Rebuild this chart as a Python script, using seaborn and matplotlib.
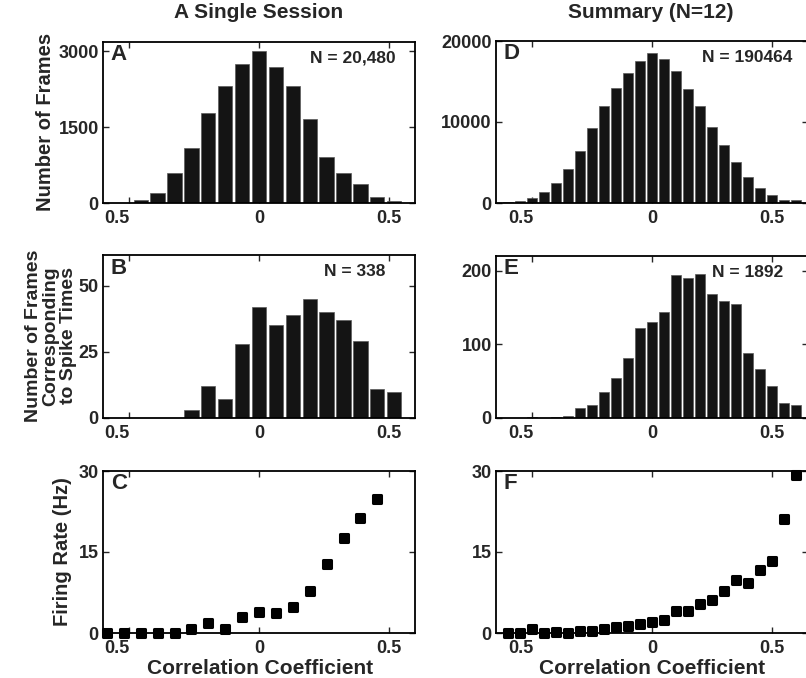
import pandas as pd
import seaborn as sns
import matplotlib.pyplot as plt
from matplotlib.transforms import ScaledTranslation

# A single session (panels A-C)
sess_bins = [-0.52, -0.455, -0.39, -0.325, -0.26, -0.195, -0.13, -0.065, 0.0,
             0.065, 0.13, 0.195, 0.26, 0.325, 0.39, 0.455, 0.52]
sess_frames = [5, 50, 204, 585, 1079, 1783, 2303, 2737, 3000, 2684, 2303, 1658,
               908, 599, 382, 125, 46]
sess_spike_frames = [0, 0, 0, 0, 3, 12, 7, 28, 42, 35, 39, 45, 40, 37, 29, 11, 10]
sess_rate_x = [-0.585, -0.52, -0.455, -0.39, -0.325, -0.26, -0.195, -0.13, -0.065,
               0.0, 0.065, 0.13, 0.195, 0.26, 0.325, 0.39, 0.455]
sess_rate = [0, 0, 0, 0, 0, 0.8, 1.9, 0.8, 3.0, 3.95, 3.7, 4.8, 7.7, 12.7, 17.6,
             21.3, 24.9]

# summary over 12 sessions (panels D-F)
summ_bins = [-0.6, -0.55, -0.5, -0.45, -0.4, -0.35, -0.3, -0.25, -0.2, -0.15, -0.1,
             -0.05, 0.0, 0.05, 0.1, 0.15, 0.2, 0.25, 0.3, 0.35, 0.4, 0.45, 0.5, 0.55, 0.6]
summ_frames = [120, 290, 620, 1325, 2480, 4220, 6380, 9280, 11930, 14240, 16110,
               17470, 18550, 17720, 16270, 14040, 11970, 9440, 7120, 5050, 3230,
               1820, 1035, 414, 414]
summ_spike_frames = [0, 0, 1, 0, 2, 3, 13, 18, 35, 55, 82, 122, 130, 144, 194, 190,
                     195, 168, 159, 155, 88, 67, 43, 21, 18]
summ_rate = [0, 0, 0.7, 0, 0.2, 0.05, 0.4, 0.4, 0.7, 1.1, 1.3, 1.7, 2.0, 2.4, 4.0,
             4.0, 5.3, 6.1, 7.8, 9.75, 9.25, 11.7, 13.3, 21.2, 29.3]

sns.set_style('ticks')
plt.rcParams['font.family'] = ['Liberation Sans', 'DejaVu Sans']
plt.rcParams['font.weight'] = 'bold'

W, H = 806, 678
fig = plt.figure(figsize=(W / 100, H / 100), dpi=100)


def px_axes(left, top, right, bottom):
    return fig.add_axes([left / W, 1 - bottom / H, (right - left) / W, (bottom - top) / H])


def hist_panel(ax, centers, counts, width):
    df = pd.DataFrame({'r': centers, 'n': counts})
    sns.barplot(data=df, x='r', y='n', native_scale=True, width=width, ax=ax,
                color='#141414', edgecolor='#5a5a5a', linewidth=0.5, saturation=1,
                errorbar=None)


def rate_panel(ax, xs, ys):
    df = pd.DataFrame({'r': xs, 'hz': ys})
    sns.scatterplot(data=df, x='r', y='hz', marker='s', s=30, color='black',
                    edgecolor='black', linewidth=2.2, clip_on=False, zorder=5, ax=ax)
    for coll in ax.collections:
        coll.set_joinstyle('round')


def style(ax, xlim, ylim, yticks, letter, shift):
    ax.set_xlim(xlim)
    ax.set_ylim(ylim)
    ax.set_xticks([-0.5, 0, 0.5])
    ax.set_xticklabels(['0.5', '0', '0.5'])
    ax.set_yticks(yticks)
    ax.set_yticklabels([str(t) for t in yticks])
    ax.tick_params(direction='in', top=True, right=True, length=4, width=1,
                   labelsize=13, pad=5)
    ax.tick_params(axis='y', pad=3)
    for s in ax.spines.values():
        s.set_visible(True)
        s.set_linewidth(1.3)
        s.set_color('black')
    ax.set_xlabel('')
    ax.set_ylabel('')
    # the minus sign of the left label is missing in the original
    lab = ax.get_xticklabels()[0]
    lab.set_transform(lab.get_transform() + ScaledTranslation(shift, 0, fig.dpi_scale_trans))
    ax.text(0.025, 0.92, letter, transform=ax.transAxes, fontsize=16,
            fontweight='bold', ha='left', va='center')


axA = px_axes(103, 42, 415, 203)
axB = px_axes(103, 255, 415, 418)
axC = px_axes(103, 471, 415, 633)
axD = px_axes(496, 41, 808, 203)
axE = px_axes(496, 256, 808, 418)
axF = px_axes(496, 471, 808, 633)

hist_panel(axA, sess_bins, sess_frames, 0.85)
hist_panel(axB, sess_bins, sess_spike_frames, 0.85)
rate_panel(axC, sess_rate_x, sess_rate)
hist_panel(axD, summ_bins, summ_frames, 0.88)
hist_panel(axE, summ_bins, summ_spike_frames, 0.88)
rate_panel(axF, summ_bins, summ_rate)

style(axA, (-0.6, 0.6), (0, 3180), [0, 1500, 3000], 'A', -0.12)
style(axB, (-0.6, 0.6), (0, 61.6), [0, 25, 50], 'B', -0.12)
style(axC, (-0.6, 0.6), (0, 30), [0, 15, 30], 'C', -0.12)
style(axD, (-0.65, 0.65), (0, 20000), [0, 10000, 20000], 'D', -0.11)
style(axE, (-0.65, 0.65), (0, 220), [0, 100, 200], 'E', -0.11)
style(axF, (-0.65, 0.65), (0, 30), [0, 15, 30], 'F', -0.11)

for ax, txt, xr in [(axA, 'N = 20,480', 396), (axB, 'N = 338', 385),
                    (axD, 'N = 190464', 792), (axE, 'N = 1892', 783)]:
    bb = ax.get_position()
    x = (xr / W - bb.x0) / bb.width
    ax.text(x, 0.9, txt, transform=ax.transAxes, fontsize=12.5, fontweight='bold',
            ha='right', va='center')

fig.text(259 / W, 1 - 13 / H, 'A Single Session', fontsize=15, fontweight='bold',
         ha='center', va='center')
fig.text(651 / W, 1 - 13 / H, 'Summary (N=12)', fontsize=15, fontweight='bold',
         ha='center', va='center')

fig.text(46 / W, 1 - 122 / H, 'Number of Frames', rotation=90, fontsize=14.5,
         fontweight='bold', ha='center', va='center')
fig.text(51 / W, 1 - 336 / H, 'Number of Frames\nCorresponding\nto Spike Times',
         rotation=90, fontsize=14, fontweight='bold', ha='center', va='center',
         multialignment='center', linespacing=1.05)
fig.text(63 / W, 1 - 552 / H, 'Firing Rate (Hz)', rotation=90, fontsize=14.5,
         fontweight='bold', ha='center', va='center')

fig.text(260 / W, 1 - 668 / H, 'Correlation Coefficient', fontsize=15,
         fontweight='bold', ha='center', va='center')
fig.text(652 / W, 1 - 668 / H, 'Correlation Coefficient', fontsize=15,
         fontweight='bold', ha='center', va='center')

fig.savefig('out.png', dpi=100)
